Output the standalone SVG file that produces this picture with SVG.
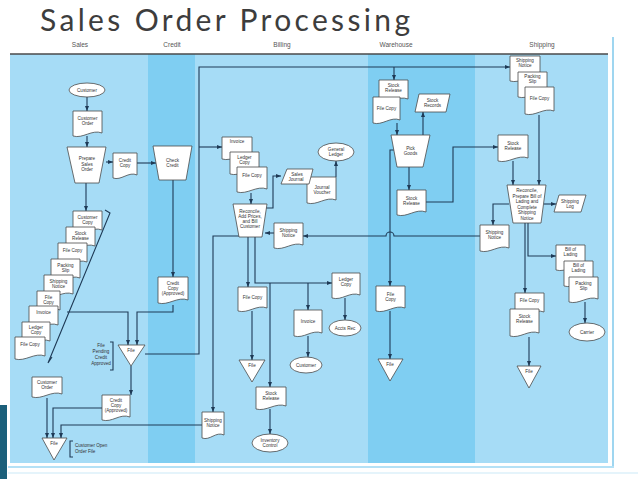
<svg xmlns="http://www.w3.org/2000/svg" width="638" height="479" viewBox="0 0 638 479">
<defs>
<marker id="ar" viewBox="0 0 10 10" refX="10" refY="5" markerWidth="5" markerHeight="5" orient="auto" markerUnits="userSpaceOnUse"><path d="M0,1 L10,5 L0,9 z" fill="#1e3a56"/></marker>
</defs>
<style>
.n{fill:#fff;stroke:#4a4a4a;stroke-width:0.8}
.t{font-family:"Liberation Sans",Arial,sans-serif;font-size:4.6px;fill:#333;text-anchor:middle}
.tl{font-family:"Liberation Sans",Arial,sans-serif;font-size:4.6px;fill:#333}
.lane{font-family:"Liberation Sans",Arial,sans-serif;font-size:6.5px;fill:#555;text-anchor:middle}
.c{fill:none;stroke:#1e3a56;stroke-width:1.1}
.ca{fill:none;stroke:#1e3a56;stroke-width:1.1;marker-end:url(#ar)}
</style>
<rect width="638" height="479" fill="#fff"/>
<text x="40" y="30.5" font-family="Lato, 'Open Sans', sans-serif" font-size="30" fill="#3d3d3d" textLength="370" lengthAdjust="spacing">Sales Order Processing</text>
<g id="lanes">
<rect x="10" y="54" width="138" height="409" fill="#a6dcf6"/>
<rect x="148" y="54" width="47" height="409" fill="#7fcef2"/>
<rect x="195" y="54" width="173" height="409" fill="#a6dcf6"/>
<rect x="368" y="54" width="107" height="409" fill="#7fcef2"/>
<rect x="475" y="54" width="133" height="409" fill="#a6dcf6"/>
<line x1="10" y1="54" x2="608" y2="54" stroke="#4a4a4a" stroke-width="1.5"/>
<text class="lane" x="80" y="47">Sales</text>
<text class="lane" x="172" y="47">Credit</text>
<text class="lane" x="282" y="47">Billing</text>
<text class="lane" x="396" y="47">Warehouse</text>
<text class="lane" x="542" y="47">Shipping</text>
<line x1="613" y1="37" x2="613" y2="467" stroke="#9fd6f0" stroke-width="2"/>
<line x1="8" y1="467" x2="614" y2="467" stroke="#b4e1f6" stroke-width="2"/>
<line x1="8" y1="473" x2="638" y2="473" stroke="#dcf1fa" stroke-width="1.5"/>
<rect x="0" y="405" width="7" height="74" fill="#1b5f7a"/>
</g>

<g id="connectors">
<path class="ca" d="M87 97 V111"/>
<path class="ca" d="M87 136 V147"/>
<path class="ca" d="M106 162 H113"/>
<path class="ca" d="M137 163 H156"/>
<path class="ca" d="M86 183 V211"/>
<path class="ca" d="M173 180 V277"/>
<path class="ca" d="M173 305 V312 H137 V345"/>
<path class="ca" d="M67 312 H128 V345"/>
<path class="ca" d="M145 354 H199 V67 H510"/>
<path class="ca" d="M199 147 H222"/>
<path class="ca" d="M394 67 V80"/>
<path class="ca" d="M131 366 V395"/>
<path class="ca" d="M102 408 H53 V438"/>
<path class="ca" d="M47 398 V438"/>
<path class="ca" d="M202 425 H61 V438"/>
<path class="ca" d="M251 193 V204"/>
<path class="ca" d="M266 208 H273 V176 H281"/>
<path class="ca" d="M336 177 V161"/>
<path class="ca" d="M274 233 H265"/>
<path class="ca" d="M240 236 H213 V412"/>
<path class="ca" d="M248 237 V287"/>
<path class="ca" d="M252 311 V360"/>
<path class="ca" d="M255 237 V283 H332"/>
<path class="ca" d="M270 283 V387"/>
<path class="ca" d="M308 283 V310"/>
<path class="ca" d="M308 336 V357"/>
<path class="ca" d="M345 298 V320"/>
<path class="ca" d="M270 409 V434"/>
<path class="ca" d="M397 123 V135"/>
<path class="ca" d="M423 135 V112"/>
<path class="ca" d="M409 167 V190"/>
<path class="ca" d="M394 150 H390 V286"/>
<path class="ca" d="M390 311 V359"/>
<path class="ca" d="M426 202 H453 V147 H498"/>
<path class="ca" d="M539 115 V185"/>
<path class="ca" d="M513 161 V185"/>
<path class="ca" d="M544 204 H556"/>
<path class="ca" d="M509 204 H493 V225"/>
<path class="ca" d="M480 236 H394 A4 4 0 0 0 386 236 H303"/>
<path class="ca" d="M525 223 V293"/>
<path class="ca" d="M528 223 V256 H556"/>
<path class="ca" d="M585 302 V323"/>
<path class="ca" d="M529 337 V366"/>
<path class="c" d="M105 210 L110 213 L48 363 L52 357"/>
<path class="c" d="M110 342 H113 V370 H110" stroke-width="0.8"/>
<path class="c" d="M73 441 H70 V457 H73" stroke-width="0.8"/>
</g>

<!-- Sales lane -->
<g id="customer1"><ellipse class="n" cx="87" cy="90" rx="18" ry="7"/><text class="t" x="87" y="91.6">Customer</text></g>
<g id="custOrder1"><path class="n" d="M73 111 h29 v22 c-10,-4 -19,6 -29,3 z"/><text class="t" x="87.5" y="120">Customer</text><text class="t" x="87.5" y="125">Order</text></g>
<g id="prepare"><path class="n" d="M67 147 H106 L99 183 H75 Z"/><text class="t" x="87" y="160">Prepare</text><text class="t" x="87" y="165.5">Sales</text><text class="t" x="87" y="171">Order</text></g>
<g id="creditCopy"><path class="n" d="M113 153 h24 v22 c-8,-4 -16,6 -24,3 z"/><text class="t" x="125" y="162">Credit</text><text class="t" x="125" y="167">Copy</text></g>
<g id="stack1"><path class="n" d="M73 211 h29 v19 c-10,-4 -19,6 -29,3 z"/><text class="t" x="87.5" y="219">Customer</text><text class="t" x="87.5" y="224">Copy</text></g>
<g id="stack2"><path class="n" d="M66 227 h29 v19 c-10,-4 -19,6 -29,3 z"/><text class="t" x="80.5" y="235">Stock</text><text class="t" x="80.5" y="240">Release</text></g>
<g id="stack3"><path class="n" d="M58 243 h29 v19 c-10,-4 -19,6 -29,3 z"/><text class="t" x="72.5" y="252">File Copy</text></g>
<g id="stack4"><path class="n" d="M51 259 h29 v19 c-10,-4 -19,6 -29,3 z"/><text class="t" x="65.5" y="267">Packing</text><text class="t" x="65.5" y="272">Slip</text></g>
<g id="stack5"><path class="n" d="M44 275 h29 v19 c-10,-4 -19,6 -29,3 z"/><text class="t" x="58.5" y="283">Shipping</text><text class="t" x="58.5" y="288">Notice</text></g>
<g id="stack6"><path class="n" d="M37 291 h23 v19 c-8,-4 -15,6 -23,3 z"/><text class="t" x="48.5" y="299">File</text><text class="t" x="48.5" y="304">Copy</text></g>
<g id="stack7"><path class="n" d="M29 306 h29 v19 c-10,-4 -19,6 -29,3 z"/><text class="t" x="43.5" y="314">Invoice</text></g>
<g id="stack8"><path class="n" d="M22 322 h28 v19 c-10,-4 -18,6 -28,3 z"/><text class="t" x="36" y="329">Ledger</text><text class="t" x="36" y="334">Copy</text></g>
<g id="stack9"><path class="n" d="M15 337 h30 v19 c-10,-4 -20,6 -30,3 z"/><text class="t" x="30" y="346">File Copy</text></g>
<g id="filePending"><path class="n" d="M118 345 H145 L131 366 Z"/><text class="t" x="131" y="352">File</text></g>
<g id="filePendingLabel"><text class="t" x="101" y="347">File</text><text class="t" x="101" y="353">Pending</text><text class="t" x="101" y="359">Credit</text><text class="t" x="101" y="365">Approved</text></g>
<g id="custOrder2"><path class="n" d="M32 377 h30 v17 c-10,-4 -20,6 -30,3 z"/><text class="t" x="47" y="384">Customer</text><text class="t" x="47" y="389">Order</text></g>
<g id="creditApproved2"><path class="n" d="M102 395 h28 v22 c-10,-4 -18,6 -28,3 z"/><text class="t" x="116" y="402">Credit</text><text class="t" x="116" y="407">Copy</text><text class="t" x="116" y="412">(Approved)</text></g>
<g id="fileOpen"><path class="n" d="M42 438 H67 L54 460 Z"/><text class="t" x="54" y="445">File</text></g>
<g id="fileOpenLabel"><text class="tl" x="75" y="447">Customer Open</text><text class="tl" x="75" y="453">Order File</text></g>

<!-- Credit lane -->
<g id="checkCredit"><path class="n" d="M153 146 H192 L186 180 H159 Z"/><text class="t" x="172.5" y="162">Check</text><text class="t" x="172.5" y="167">Credit</text></g>
<g id="creditApproved1"><path class="n" d="M158 277 h30 v23 c-10,-4 -20,6 -30,3 z"/><text class="t" x="173" y="285">Credit</text><text class="t" x="173" y="290">Copy</text><text class="t" x="173" y="295">(Approved)</text></g>

<!-- Billing lane -->
<g id="invoice1"><path class="n" d="M222 137 h30 v19 c-10,-4 -20,6 -30,3 z"/><text class="t" x="237" y="143">Invoice</text></g>
<g id="ledgerCopy1"><path class="n" d="M230 152 h29 v19 c-10,-4 -19,6 -29,3 z"/><text class="t" x="244.5" y="159">Ledger</text><text class="t" x="244.5" y="164">Copy</text></g>
<g id="fileCopy1"><path class="n" d="M237 167 h30 v22 c-10,-4 -20,6 -30,3 z"/><text class="t" x="252" y="177">File Copy</text></g>
<g id="journalVoucher"><path class="n" d="M307 177 h29 v23 c-10,-4 -19,6 -29,3 z"/><text class="t" x="322" y="189">Journal</text><text class="t" x="322" y="194">Voucher</text></g>
<g id="salesJournal"><path class="n" d="M287 169 H313 L309 184 H281 Z"/><text class="t" x="297" y="175.5">Sales</text><text class="t" x="296" y="180.5">Journal</text></g>
<g id="generalLedger"><ellipse class="n" cx="336" cy="152" rx="18" ry="9"/><text class="t" x="336" y="151">General</text><text class="t" x="336" y="156">Ledger</text></g>
<g id="reconcile1"><path class="n" d="M233 204 H267 L262 237 H239 Z"/><text class="t" x="250" y="213">Reconcile,</text><text class="t" x="250" y="218">Add Prices,</text><text class="t" x="250" y="223">and Bill</text><text class="t" x="250" y="228">Customer</text></g>
<g id="shipNotice1"><path class="n" d="M274 223 h29 v22 c-10,-4 -19,6 -29,3 z"/><text class="t" x="288.5" y="232">Shipping</text><text class="t" x="288.5" y="237">Notice</text></g>
<g id="fileCopy2"><path class="n" d="M238 287 h29 v21 c-10,-4 -19,6 -29,3 z"/><text class="t" x="252.5" y="299">File Copy</text></g>
<g id="fileB"><path class="n" d="M239 360 H265 L252 382 Z"/><text class="t" x="252" y="367">File</text></g>
<g id="stockRelease2"><path class="n" d="M256 387 h30 v19 c-10,-4 -20,6 -30,3 z"/><text class="t" x="271" y="395">Stock</text><text class="t" x="271" y="400">Release</text></g>
<g id="inventoryControl"><ellipse class="n" cx="270" cy="443" rx="18" ry="9"/><text class="t" x="270" y="442">Inventory</text><text class="t" x="270" y="447">Control</text></g>
<g id="invoice2"><path class="n" d="M294 310 h28 v23 c-10,-4 -18,6 -28,3 z"/><text class="t" x="308" y="323">Invoice</text></g>
<g id="customer2"><ellipse class="n" cx="306" cy="365" rx="16" ry="8"/><text class="t" x="306" y="366.6">Customer</text></g>
<g id="ledgerCopy2"><path class="n" d="M332 273 h28 v22 c-10,-4 -18,6 -28,3 z"/><text class="t" x="346" y="281">Ledger</text><text class="t" x="346" y="286">Copy</text></g>
<g id="acctsRec"><ellipse class="n" cx="345" cy="328" rx="16" ry="8"/><text class="t" x="345" y="329.6">Accts Rec</text></g>
<g id="shipNotice2"><path class="n" d="M202 412 h22 v23 c-8,-4 -14,6 -22,3 z"/><text class="t" x="213" y="422">Shipping</text><text class="t" x="213" y="427">Notice</text></g>

<!-- Warehouse lane -->
<g id="stockRelease3"><path class="n" d="M379 80 h29 v19 c-10,-4 -19,6 -29,3 z"/><text class="t" x="393.5" y="87">Stock</text><text class="t" x="393.5" y="92">Release</text></g>
<g id="fileCopy3"><path class="n" d="M373 97 h27 v23 c-9,-4 -18,6 -27,3 z"/><text class="t" x="386.5" y="110">File Copy</text></g>
<g id="stockRecords"><path class="n" d="M419 94 H450 L446 112 H415 Z"/><text class="t" x="432.5" y="102">Stock</text><text class="t" x="432.5" y="107">Records</text></g>
<g id="pickGoods"><path class="n" d="M391 135 H430 L423 167 H397 Z"/><text class="t" x="410.5" y="150">Pick</text><text class="t" x="410.5" y="155">Goods</text></g>
<g id="stockRelease4"><path class="n" d="M397 190 h29 v22 c-10,-4 -19,6 -29,3 z"/><text class="t" x="411.5" y="200">Stock</text><text class="t" x="411.5" y="205">Release</text></g>
<g id="fileCopy4"><path class="n" d="M376 286 h29 v22 c-10,-4 -19,6 -29,3 z"/><text class="t" x="390.5" y="296">File</text><text class="t" x="390.5" y="301">Copy</text></g>
<g id="fileW"><path class="n" d="M378 359 H403 L390 381 Z"/><text class="t" x="390" y="366">File</text></g>

<!-- Shipping lane -->
<g id="shipNotice3"><path class="n" d="M510 56 h30 v22 c-10,-4 -20,6 -30,3 z"/><text class="t" x="525" y="62">Shipping</text><text class="t" x="525" y="67">Notice</text></g>
<g id="packingSlip1"><path class="n" d="M518 72 h29 v22 c-10,-4 -19,6 -29,3 z"/><text class="t" x="532.5" y="78">Packing</text><text class="t" x="532.5" y="83">Slip</text></g>
<g id="fileCopy5"><path class="n" d="M525 87 h29 v24 c-10,-4 -19,6 -29,3 z"/><text class="t" x="539.5" y="100">File Copy</text></g>
<g id="stockRelease5"><path class="n" d="M498 135 h30 v23 c-10,-4 -20,6 -30,3 z"/><text class="t" x="513" y="145">Stock</text><text class="t" x="513" y="150">Release</text></g>
<g id="reconcile2"><path class="n" d="M507 185 H546 L541 223 H513 Z"/><text class="t" x="527" y="192">Reconcile,</text><text class="t" x="527" y="197.5">Prepare Bill of</text><text class="t" x="527" y="203">Lading and</text><text class="t" x="527" y="208.5">Complete</text><text class="t" x="527" y="214">Shipping</text><text class="t" x="527" y="219.5">Notice</text></g>
<g id="shippingLog"><path class="n" d="M559 195 H586 L581 212 H554 Z"/><text class="t" x="570" y="202.5">Shipping</text><text class="t" x="570" y="207.5">Log</text></g>
<g id="shipNotice4"><path class="n" d="M480 225 h29 v23 c-10,-4 -19,6 -29,3 z"/><text class="t" x="494.5" y="234">Shipping</text><text class="t" x="494.5" y="239">Notice</text></g>
<g id="billLading1"><path class="n" d="M556 245 h29 v22 c-10,-4 -19,6 -29,3 z"/><text class="t" x="570.5" y="251">Bill of</text><text class="t" x="570.5" y="256">Lading</text></g>
<g id="billLading2"><path class="n" d="M564 261 h29 v22 c-10,-4 -19,6 -29,3 z"/><text class="t" x="578.5" y="267">Bill of</text><text class="t" x="578.5" y="272">Lading</text></g>
<g id="packingSlip2"><path class="n" d="M569 277 h29 v22 c-10,-4 -19,6 -29,3 z"/><text class="t" x="583.5" y="285">Packing</text><text class="t" x="583.5" y="290">Slip</text></g>
<g id="carrier"><ellipse class="n" cx="587" cy="332" rx="18" ry="9"/><text class="t" x="587" y="333.6">Carrier</text></g>
<g id="fileCopy6"><path class="n" d="M515 293 h29 v19 c-10,-4 -19,6 -29,3 z"/><text class="t" x="529.5" y="302">File Copy</text></g>
<g id="stockRelease6"><path class="n" d="M510 309 h29 v24 c-10,-4 -19,6 -29,3 z"/><text class="t" x="524.5" y="318">Stock</text><text class="t" x="524.5" y="323">Release</text></g>
<g id="fileS"><path class="n" d="M517 366 H541 L529 388 Z"/><text class="t" x="529" y="373">File</text></g>
</svg>
